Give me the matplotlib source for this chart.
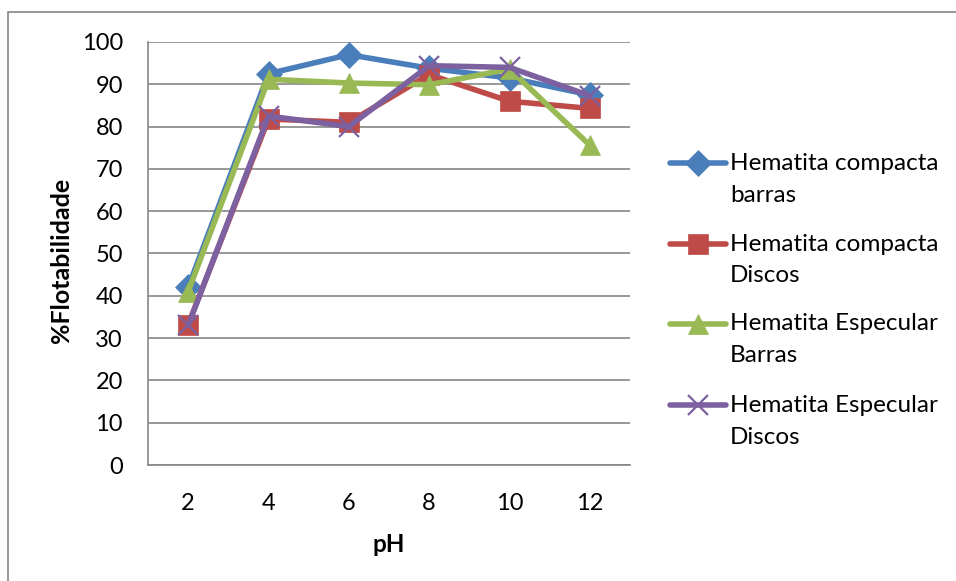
import matplotlib.pyplot as plt
from matplotlib.lines import Line2D
from matplotlib.patches import Rectangle

# Flotabilidade (%) em função do pH
ph = ['2', '4', '6', '8', '10', '12']
compacta_barras = [42, 92.5, 97, 93.8, 91.5, 87.5]
compacta_discos = [33.2, 81.8, 81, 92.3, 86, 84.3]
especular_barras = [41, 91.2, 90.3, 89.9, 93.6, 75.6]
especular_discos = [33, 82.5, 80, 94.4, 94, 87.3]

series = [
    (['Hematita compacta', 'barras'], compacta_barras, '#4A7EBB', 'D', 13),
    (['Hematita compacta', 'Discos'], compacta_discos, '#BE4B48', 's', 14),
    (['Hematita Especular', 'Barras'], especular_barras, '#98B954', '^', 15),
    (['Hematita Especular', 'Discos'], especular_discos, '#7D60A0', 'x', 14),
]

plt.rcParams['font.family'] = ['Lato', 'DejaVu Sans']

W, H = 956, 581
fig = plt.figure(figsize=(W/100, H/100), dpi=100)
ax = fig.add_axes([148/W, 1-465/H, (630-148)/W, (465-42)/H])

x = range(len(ph))
for nome, y, cor, mk, ms in series:
    ax.plot(x, y, color=cor, lw=4, marker=mk, markersize=ms,
            markeredgewidth=1.6 if mk == 'x' else 0.5, markeredgecolor=cor,
            solid_capstyle='round')

ax.set_xlim(-0.5, len(ph)-0.5)
ax.set_ylim(0, 100)
ax.set_yticks(range(0, 101, 10))
ax.set_xticks(list(x))
ax.set_xticklabels(ph)
ax.tick_params(length=0, labelsize=17)
ax.tick_params(axis='y', pad=18)
ax.tick_params(axis='x', pad=20)
ax.grid(axis='y', color='#868686', lw=1.2)
ax.set_axisbelow(True)
for s in ['top', 'right']:
    ax.spines[s].set_visible(False)
for s in ['left', 'bottom']:
    ax.spines[s].set_color('#868686')
    ax.spines[s].set_linewidth(1.2)

ax.set_xlabel('pH', fontsize=17.5, fontweight='bold', va='center')
ax.xaxis.set_label_coords(0.5, (465-545)/423)
ax.set_ylabel('%Flotabilidade', fontsize=18, fontweight='bold',
              va='center', ha='center')
ax.yaxis.set_label_coords((62-148)/482, (465-260)/423)

# legenda desenhada à mão: marcador alinhado com a primeira linha do texto
y_leg = [163, 244, 324, 405]
for (linhas, y, cor, mk, ms), yl in zip(series, y_leg):
    yf = 1 - yl/H
    fig.add_artist(Line2D([670/W, 726/W], [yf, yf], transform=fig.transFigure,
                          color=cor, lw=4, solid_capstyle='round'))
    fig.add_artist(Line2D([698/W], [yf], transform=fig.transFigure,
                          color=cor, marker=mk, markersize=ms,
                          markeredgewidth=1.6 if mk == 'x' else 0.5,
                          markeredgecolor=cor, lw=0))
    fig.text(730/W, yf, linhas[0], fontsize=17.5, va='center', ha='left')
    fig.text(730/W, 1-(yl+32)/H, linhas[1], fontsize=17.5, va='center', ha='left')

# moldura do gráfico
fig.patches.append(Rectangle((8/W, -0.05), 1.2, 1-12/H+0.05,
                             transform=fig.transFigure, fill=False,
                             edgecolor='#868686', lw=1.2))

fig.savefig('out.png', dpi=100)
